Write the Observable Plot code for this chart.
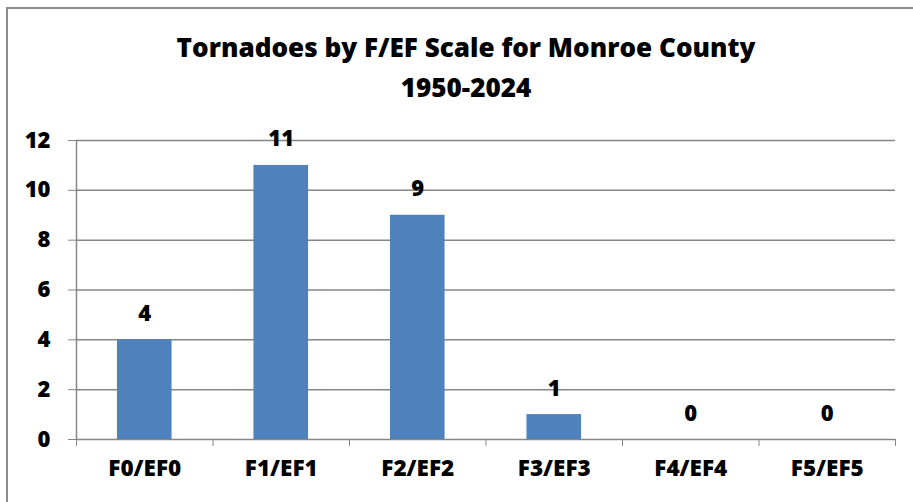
<!DOCTYPE html>
<html>
<head>
<meta charset="utf-8">
<script src="https://cdn.jsdelivr.net/npm/d3@7"></script>
<script src="https://cdn.jsdelivr.net/npm/@observablehq/plot@0.6"></script>
<style>
  html, body { margin: 0; padding: 0; background: #fff; }
  body { width: 913px; height: 502px; position: relative; overflow: hidden; font-family: "Open Sans", Lato, sans-serif; }
  #frame { position: absolute; left: 6px; top: 7px; width: 920px; height: 520px; border: 2px solid #8c8c8c; box-sizing: border-box; }
  #title { position: absolute; left: 0; top: 27px; width: 932px; text-align: center; font-weight: 800; font-size: 26.1px; line-height: 40px; color: #000; }
  #chart { position: absolute; left: 0; top: 110px; }
</style>
</head>
<body>
<div id="frame"></div>
<div id="title">Tornadoes by F/EF Scale for Monroe County<br>1950-2024</div>
<div id="chart"></div>
<script>
const categories = ["F0/EF0", "F1/EF1", "F2/EF2", "F3/EF3", "F4/EF4", "F5/EF5"];
const counts = [4, 11, 9, 1, 0, 0];
const yTicks = [0, 2, 4, 6, 8, 10, 12];

const data = categories.map((c, i) => ({cat: c, idx: i, value: counts[i]}));
const boundaries = d3.range(categories.length + 1);
const centers = categories.map((c, i) => i + 0.5);
const font = "'Open Sans', Lato, sans-serif";

const chart = Plot.plot({
  width: 913,
  height: 392,
  marginTop: 30,
  marginBottom: 63,
  marginLeft: 76,
  marginRight: 18,
  style: {fontFamily: font, fontWeight: "800", color: "#000", background: "transparent"},
  x: {type: "linear", domain: [0, categories.length], axis: null},
  y: {domain: [0, 12], axis: null},
  marks: [
    Plot.ruleY(yTicks, {stroke: "#868686", strokeWidth: 1.5}),
    Plot.rectY(data, {x1: d => d.idx + 0.3, x2: d => d.idx + 0.7, y: "value", fill: "#4F81BD"}),
    Plot.ruleX([0], {stroke: "#868686", strokeWidth: 1.5}),
    Plot.axisY({ticks: yTicks, tickSize: 8, tickPadding: 18, stroke: "#868686", fill: "#000", fontSize: 22, fontWeight: "800", label: null}),
    Plot.axisX({ticks: boundaries, tickSize: 7, tickFormat: () => "", stroke: "#868686", label: null}),
    Plot.axisX({ticks: centers, tickSize: 0, tickPadding: 21, tickFormat: v => categories[Math.floor(v)], fill: "#000", fontSize: 22.5, fontWeight: "800", label: null}),
    Plot.text(data, {x: d => d.idx + 0.5, y: "value", text: d => String(d.value), dy: -26, fontSize: 22, fontWeight: "800", fill: "#000"})
  ]
});
document.getElementById("chart").appendChild(chart);
</script>
</body>
</html>
